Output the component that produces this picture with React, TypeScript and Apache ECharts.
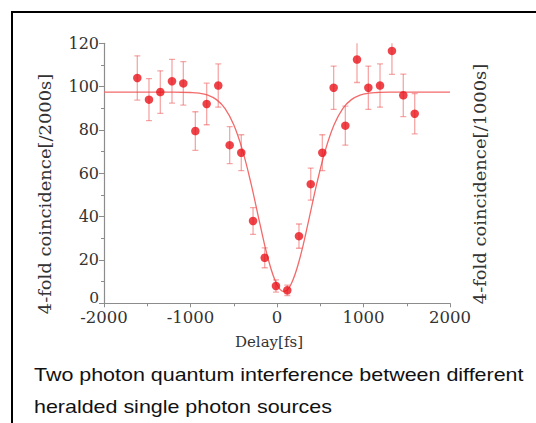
import React, { useEffect, useRef } from "react";
import * as echarts from "echarts";

// Measured data (delay in fs, 4-fold coincidence counts, error)
const delays = [-1615, -1480, -1349, -1214, -1083, -944, -813, -679, -547, -413, -277, -142, -12, 119, 254, 390, 524, 655, 790, 925, 1056, 1191, 1329, 1460, 1592];
const counts = [104, 94, 97.5, 102.5, 101.5, 79.5, 92, 100.5, 73, 69.5, 38, 21, 8, 6, 31, 55, 69.5, 99.5, 82, 112.5, 99.5, 100.5, 116.5, 96, 87.5];
const errors = [10.2, 9.7, 9.8, 10.1, 10, 8.9, 9.6, 10, 8.5, 8.3, 6.2, 4.6, 2.8, 2.4, 5.6, 7.4, 8.3, 10, 9, 10.6, 10, 10, 10.8, 9.8, 9.3];

// Fit curve
const fitX = [-2000, -1800, -1600, -1400, -1200, -1000, -900, -800, -700, -600, -500, -400, -300, -200, -100, 0, 80, 160, 260, 360, 460, 560, 660, 760, 860, 960, 1060, 1160, 1300, 1500, 1700, 2000];
const fitY = [97.5, 97.5, 97.5, 97.5, 97.5, 97.3, 97.0, 96.1, 94.0, 89.9, 82.4, 70.8, 55.2, 37.1, 20.2, 8.6, 5.5, 8.6, 20.2, 37.1, 55.2, 70.8, 82.4, 89.9, 94.0, 96.1, 97.0, 97.3, 97.5, 97.5, 97.5, 97.5];

const xTicks = { min: -2000, max: 2000, interval: 1000 };
const yTicks = { min: 0, max: 120, interval: 20 };

const leftLabel = "4-fold coincidence[/2000s]";
const rightLabel = "4-fold coincidence[/1000s]";
const xLabel = "Delay[fs]";
const caption1 = "Two photon quantum interference between different";
const caption2 = "heralded single photon sources";

export default function App() {
  const ref = useRef<HTMLDivElement>(null);
  useEffect(() => {
    if (!ref.current) return;
    const chart = echarts.init(ref.current, null, { renderer: "svg" });
    const serif = "DejaVu Serif";
    const axisCol = "#8c8c8c";
    const barStyle = { stroke: "rgba(238,80,80,0.5)", lineWidth: 1.3 };
    chart.setOption({
      animation: false,
      backgroundColor: "#ffffff",
      grid: { left: 104, right: 86, top: 43.3, bottom: 119.7, containLabel: false },
      xAxis: {
        type: "value",
        min: xTicks.min,
        max: xTicks.max,
        interval: xTicks.interval,
        axisLine: { show: true, onZero: false, lineStyle: { color: axisCol, width: 1.2 } },
        axisTick: { show: true, inside: false, length: 4, lineStyle: { color: axisCol } },
        minorTick: { show: true, splitNumber: 2, length: 3, lineStyle: { color: axisCol } },
        splitLine: { show: false },
        axisLabel: {
          color: "#333",
          fontFamily: serif,
          fontSize: 16.5,
          margin: 8,
          lineHeight: 13,
          formatter: (v: number) => String(v),
        },
      },
      yAxis: {
        type: "value",
        min: yTicks.min,
        max: yTicks.max,
        interval: yTicks.interval,
        axisLine: { show: true, onZero: false, lineStyle: { color: axisCol, width: 1.2 } },
        axisTick: { show: true, inside: false, length: 5, lineStyle: { color: axisCol } },
        minorTick: { show: true, splitNumber: 2, length: 3, lineStyle: { color: axisCol } },
        splitLine: { show: false },
        axisLabel: {
          color: "#333",
          fontFamily: serif,
          fontSize: 16,
          margin: 5,
          lineHeight: 11,
          formatter: (v: number) => (v === 0 ? "{z|0}" : String(v)),
          rich: {
            z: { color: "#333", fontFamily: serif, fontSize: 15.5, lineHeight: 11, padding: [0, 0, 10, 0] },
          },
        },
      },
      series: [
        {
          type: "line",
          data: fitX.map((x, i) => [x, fitY[i]]),
          smooth: 0.4,
          showSymbol: false,
          symbol: "none",
          lineStyle: { color: "#f26a6a", width: 1.3 },
          z: 1,
        },
        {
          type: "custom",
          data: delays.map((d, i) => [d, counts[i] - errors[i], counts[i] + errors[i]]),
          encode: { x: 0, y: [1, 2] },
          clip: true,
          z: 2,
          renderItem: (params: any, api: any) => {
            const x = api.value(0);
            const lo = api.coord([x, api.value(1)]);
            const hi = api.coord([x, api.value(2)]);
            const w = 3;
            return {
              type: "group",
              children: [
                { type: "line", shape: { x1: hi[0], y1: hi[1], x2: lo[0], y2: lo[1] }, style: barStyle },
                { type: "line", shape: { x1: hi[0] - w, y1: hi[1], x2: hi[0] + w, y2: hi[1] }, style: barStyle },
                { type: "line", shape: { x1: lo[0] - w, y1: lo[1], x2: lo[0] + w, y2: lo[1] }, style: barStyle },
              ],
            };
          },
        },
        {
          type: "scatter",
          data: delays.map((d, i) => [d, counts[i]]),
          symbol: "circle",
          symbolSize: 8.5,
          itemStyle: { color: "#e8141c" },
          z: 3,
        },
      ],
      graphic: [
        {
          type: "rect",
          shape: { x: 12, y: 12, width: 600, height: 500 },
          style: { fill: "none", stroke: "#000", lineWidth: 2 },
          silent: true,
        },
        {
          type: "text",
          x: 269,
          y: 342,
          style: { text: xLabel, fontFamily: serif, fontSize: 15, fill: "#333", align: "center", verticalAlign: "middle" },
        },
        {
          type: "text",
          x: 45.5,
          y: 194,
          rotation: Math.PI / 2,
          scaleX: 1.12,
          style: { text: leftLabel, fontFamily: serif, fontSize: 16, fill: "#333", align: "center", verticalAlign: "middle" },
        },
        {
          type: "text",
          x: 480,
          y: 184,
          rotation: Math.PI / 2,
          scaleX: 1.12,
          style: { text: rightLabel, fontFamily: serif, fontSize: 16, fill: "#333", align: "center", verticalAlign: "middle" },
        },
        {
          type: "text",
          x: 34,
          y: 375,
          scaleX: 1.16,
          style: { text: caption1, fontFamily: "Liberation Sans", fontSize: 18.5, fill: "#111", align: "left", verticalAlign: "middle" },
        },
        {
          type: "text",
          x: 34,
          y: 407,
          scaleX: 1.16,
          style: { text: caption2, fontFamily: "Liberation Sans", fontSize: 18.5, fill: "#111", align: "left", verticalAlign: "middle" },
        },
      ],
    });
    return () => chart.dispose();
  }, []);
  return (
    <div
      ref={ref}
      style={{ position: "absolute", left: 0, top: 0, width: 536, height: 423, background: "#fff" }}
    />
  );
}
